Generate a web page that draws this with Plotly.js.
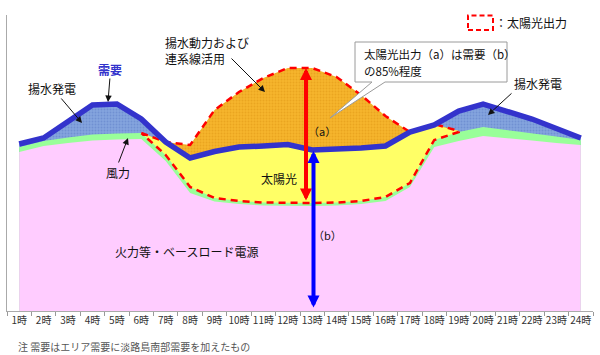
<!DOCTYPE html>
<html><head><meta charset="utf-8">
<script src="https://cdn.plot.ly/plotly-3.0.1.min.js"></script>
<style>html,body{margin:0;padding:0;background:#fff;}#chart{width:600px;height:355px;}</style>
</head><body><div id="chart"></div>
<script>
const hours = ['1時','2時','3時','4時','5時','6時','7時','8時','9時','10時','11時','12時','13時','14時','15時','16時','17時','18時','19時','20時','21時','22時','23時','24時'];
const baseLoad = [159,165,168,170.5,171.5,172,150,118,109.5,107,105.5,105,105,105.5,107,110,124,164,170,175,173,170.5,168,166];
const wind = [5,5,5.5,6,6,6,6,6,3.5,3,3,3,3,3,3,4,4,7,9,9,8,7.5,6.5,5];
const demand = [167,173,189.5,206,207,192,169,153,159.5,164,165,166.5,161,161.5,163,165,179,186,200,207,200,192,182.5,173];
const solarHours = hours.slice(5,19);
const solarOutput = [0,13,42,88,109,124.5,135,135,125.5,106,81,51,16,1];

const greenTop = baseLoad.map((b,i)=>b+wind[i]);
const solarTop = solarOutput.map((s,j)=>greenTop[j+5]+s);
const yellowTop = solarTop.map((s,j)=>Math.min(s, demand[j+5]));
const solarBottom = greenTop.slice(5,19);

const FONT = '"Noto Sans CJK JP", "Noto Sans", sans-serif';
const traces = [
  {x:hours, y:demand, type:'scatter', mode:'lines', line:{width:0}, fill:'tozeroy',
   fillcolor:'#7fa0dc', fillpattern:{shape:'.', bgcolor:'#84a4de', fgcolor:'#7090d2', size:3, solidity:0.3}},
  {x:solarHours, y:solarTop, type:'scatter', mode:'lines', line:{width:0}, fill:'tozeroy',
   fillcolor:'#f5b22a', fillpattern:{shape:'.', bgcolor:'#f6b52c', fgcolor:'#eaa520', size:3, solidity:0.3}},
  {x:solarHours, y:yellowTop, type:'scatter', mode:'lines', line:{width:0}, fill:'tozeroy', fillcolor:'#ffff66'},
  {x:hours, y:greenTop, type:'scatter', mode:'lines', line:{width:0}, fill:'tozeroy', fillcolor:'#99ff99'},
  {x:hours, y:baseLoad, type:'scatter', mode:'lines', line:{width:0}, fill:'tozeroy', fillcolor:'#ffccff'},
  {x:solarHours.concat(solarHours.slice().reverse()), y:solarTop.concat(solarBottom.slice().reverse()),
   type:'scatter', mode:'lines', line:{color:'#ff0000', width:2.5, dash:'7px,5px'}},
  {x:hours, y:demand, type:'scatter', mode:'lines', line:{color:'#3333cc', width:5.5}}
];

function P(px,py){return {x:(px-7)/586, y:(311-py)/296};}
function label(text, px, py, o){
  o = o||{};
  const p = P(px,py);
  return {xref:'paper', yref:'paper', x:p.x, y:p.y, text:text, showarrow:false,
    xanchor:o.xa||'center', yanchor:'middle', align:o.align||'center',
    font:{family:FONT, size:o.size||12, color:o.color||'#111', weight:o.weight||'normal'}};
}
function pointer(hx,hy,tx,ty){
  const p = P(hx,hy);
  return {xref:'paper', yref:'paper', x:p.x, y:p.y, ax:tx-hx, ay:ty-hy, text:'', showarrow:true,
    arrowhead:2, arrowsize:1.3, arrowwidth:1, arrowcolor:'#111', standoff:0};
}
function dbl(px, pyTop, pyBot, color){
  const p = P(px,pyTop);
  return {xref:'paper', yref:'paper', x:p.x, y:p.y, ax:0, ay:pyBot-pyTop, text:'', showarrow:true,
    arrowhead:2, arrowside:'end+start', arrowsize:0.6, arrowwidth:4, arrowcolor:color, standoff:0, startstandoff:0};
}
function pp(px,py){const p=P(px,py);return p.x+','+p.y;}

const annotations = [
  dbl(306, 68, 202, '#ff0000'),
  dbl(313.5, 151, 309, '#0000ff'),
  pointer(265,92,230,57),
  pointer(108,102,110,77),
  pointer(82,123,60,97),
  pointer(128,138,118,164),
  pointer(488,115,513,92),
  label('揚水動力および', 163, 42, {xa:'left'}),
  label('連系線活用', 163, 58, {xa:'left'}),
  label('需要', 110, 69, {color:'#3333cc', weight:'bold'}),
  label('揚水発電', 52, 88),
  label('風力', 118, 172),
  label('太陽光', 279, 178),
  label('（a）', 322, 131, {size:11}),
  label('（b）', 327, 235, {size:11}),
  label('揚水発電', 538, 83),
  label('火力等・ベースロード電源', 186, 251),
  label('太陽光出力（a）は需要（b）', 362, 54, {xa:'left', size:11.5}),
  label('の85%程度', 362, 71, {xa:'left', size:11.5}),
  label('：太陽光出力', 493, 22, {xa:'left', size:12}),
  label('注 需要はエリア需要に淡路島南部需要を加えたもの', 16, 346, {xa:'left', size:10, color:'#555'})
];

const shapes = [
  {type:'path', xref:'paper', yref:'paper', layer:'above',
   path:'M'+pp(355,42)+' L'+pp(507,42)+' L'+pp(507,82)+' L'+pp(385,82)+' L'+pp(330,118)+' L'+pp(372,82)+' L'+pp(355,82)+' Z',
   fillcolor:'#ffffff', line:{color:'#9a9a9a', width:1}},
  {type:'rect', xref:'paper', yref:'paper', layer:'above', x0:P(468,0).x, x1:P(493,0).x, y0:P(0,30).y, y1:P(0,15.5).y,
   fillcolor:'rgba(0,0,0,0)', line:{color:'#ff0000', width:2, dash:'5px,3px'}}
];

const layout = {
  width:600, height:355, margin:{l:7, r:7, t:15, b:44},
  paper_bgcolor:'#ffffff', plot_bgcolor:'#ffffff', showlegend:false,
  xaxis:{type:'category', categoryorder:'array', categoryarray:hours, range:[-0.5,23.5], tickson:'boundaries',
    ticks:'outside', ticklen:4, tickcolor:'#999', showline:true, linecolor:'#aaa', linewidth:1, showgrid:false, zeroline:false,
    tickangle:0, tickfont:{family:FONT, size:10, color:'#333'}, fixedrange:true},
  yaxis:{range:[0,296], showline:true, linecolor:'#aaa', linewidth:1, showgrid:false, zeroline:false,
    showticklabels:false, ticks:'', fixedrange:true},
  annotations:annotations, shapes:shapes
};
Plotly.newPlot('chart', traces, layout, {staticPlot:true, displayModeBar:false});
</script></body></html>
